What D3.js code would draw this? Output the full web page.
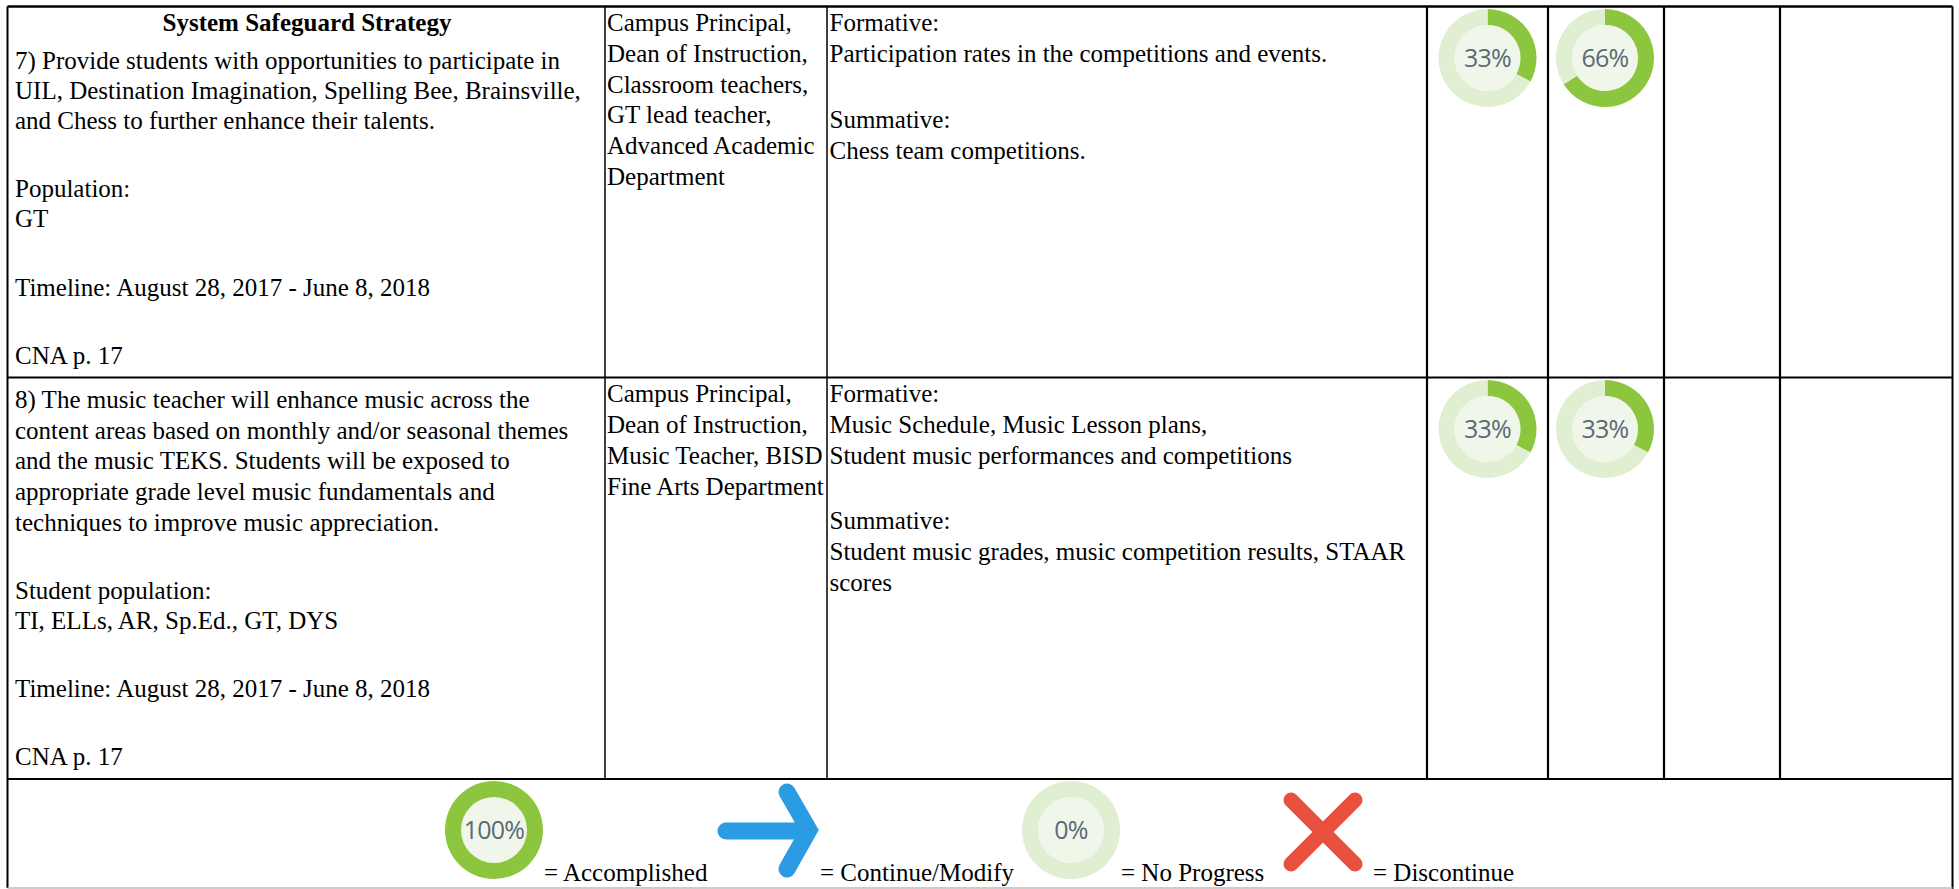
<!DOCTYPE html>
<html><head><meta charset="utf-8">
<script src="https://cdn.jsdelivr.net/npm/d3@7"></script>
<style>html,body{margin:0;padding:0;background:#fff}svg{display:block}</style>
</head><body><svg id="c" width="1959" height="889"></svg>
<script>
const strategy7 = ["7) Provide students with opportunities to participate in","UIL, Destination Imagination, Spelling Bee, Brainsville,","and Chess to further enhance their talents.","","Population:","GT","","Timeline: August 28, 2017 - June 8, 2018","","CNA p. 17"];
const staff7 = ["Campus Principal,","Dean of Instruction,","Classroom teachers,","GT lead teacher,","Advanced Academic","Department"];
const eval7 = ["Formative:","Participation rates in the competitions and events.","","Summative:","Chess team competitions."];
const strategy8 = ["8) The music teacher will enhance music across the","content areas based on monthly and/or seasonal themes","and the music TEKS. Students will be exposed to","appropriate grade level music fundamentals and","techniques to improve music appreciation.","","Student population:","TI, ELLs, AR, Sp.Ed., GT, DYS","","Timeline: August 28, 2017 - June 8, 2018","","CNA p. 17"];
const staff8 = ["Campus Principal,","Dean of Instruction,","Music Teacher, BISD","Fine Arts Department"];
const eval8 = ["Formative:","Music Schedule, Music Lesson plans,","Student music performances and competitions","","Summative:","Student music grades, music competition results, STAAR","scores"];
const progress7 = [33, 66];
const progress8 = [33, 33];
const legendLabels = ["= Accomplished","= Continue/Modify","= No Progress","= Discontinue"];
const legendValues = [100, 0];

const svg = d3.select("#c");
const serif = "'Liberation Serif','Times New Roman',serif";
const FS = 25;
const xL = 7.5, xR = 1952.5, col = [605, 827, 1427, 1548, 1664, 1780];
const yT = 6.5, yM = 377.5, yB = 779, yEnd = 888;

function textBlock(lines, x, y0, lh, gap){
  let y = y0, prevBlank = false;
  const rows = [];
  lines.forEach(t=>{
    if(!t){ prevBlank = true; return; }
    if(rows.length) y += prevBlank ? gap : lh;
    rows.push({t,y}); prevBlank = false;
  });
  svg.append("g").selectAll("text").data(rows).join("text")
    .attr("x",x).attr("y",d=>d.y).attr("font-family",serif).attr("font-size",FS).attr("fill","#000").text(d=>d.t);
}
svg.append("text").attr("x",307).attr("y",31).attr("text-anchor","middle").attr("font-family",serif)
  .attr("font-weight","bold").attr("font-size",FS).text("System Safeguard Strategy");
textBlock(strategy7, 15, 68.5, 30, 68.5);
textBlock(staff7, 607, 31, 30.8, 0);
textBlock(eval7, 829.5, 31, 31, 66);
textBlock(strategy8, 15, 407.7, 30.8, 67.7);
textBlock(staff8, 607, 402, 31, 0);
textBlock(eval8, 829.5, 402, 31, 65);

// grid
const lines = svg.append("g").attr("stroke","#000").attr("fill","none");
const ln=(x1,y1,x2,y2,w)=>lines.append("line").attr("x1",x1).attr("y1",y1).attr("x2",x2).attr("y2",y2).attr("stroke-width",w);
svg.append("line").attr("x1",xL).attr("x2",xR).attr("y1",yEnd).attr("y2",yEnd).attr("stroke","#bbb").attr("stroke-width",1.5);
ln(xL,yT,xR,yT,2.5); ln(xL,yM,xR,yM,2.2); ln(xL,yB,xR,yB,2);
ln(xL,yT,xL,yEnd,2); ln(xR,yT,xR,yEnd+1,2);
col.forEach(x=>ln(x,yT,x,yB,x<1000?1.5:2.2));

const pie = d3.pie().sort(null);
const arc = d3.arc().innerRadius(33).outerRadius(49);
function donut(v,cx,cy){
  const g = svg.append("g").attr("transform",`translate(${cx},${cy})`);
  g.append("circle").attr("r",33).attr("fill","#f0f7ea");
  g.selectAll("path").data(pie([v,100-v])).join("path").attr("d",arc).attr("fill",(d,i)=>i?"#e0efd2":"#8cc63e");
  g.append("text").attr("text-anchor","middle").attr("y",9).attr("font-family","'Open Sans',sans-serif")
   .attr("font-size",25).attr("letter-spacing",-0.8).attr("fill","#5b6a78").text(v+"%");
}
progress7.forEach((v,i)=>donut(v,[1487.5,1605][i],58));
progress8.forEach((v,i)=>donut(v,[1487.5,1605][i],429));
donut(legendValues[0],494,830);
donut(legendValues[1],1071,830);

// legend glyphs
const line2 = d3.line();
svg.append("path").attr("d",line2([[726,831],[808,831]]))
  .attr("fill","none").attr("stroke","#2b9be3").attr("stroke-width",17).attr("stroke-linecap","round");
svg.append("path").attr("d",line2([[787,792],[809,830],[787,869]]))
  .attr("fill","none").attr("stroke","#2b9be3").attr("stroke-width",17).attr("stroke-linecap","round").attr("stroke-linejoin","miter");
svg.append("path").attr("d",line2([[1291,800],[1355,864]])+line2([[1355,800],[1291,864]]))
  .attr("fill","none").attr("stroke","#e94f3d").attr("stroke-width",15).attr("stroke-linecap","round");
const lx=[544,820,1121,1373];
svg.append("g").selectAll("text").data(legendLabels).join("text").attr("x",(d,i)=>lx[i]).attr("y",880.5)
  .attr("font-family",serif).attr("font-size",FS).text(d=>d);
</script></body></html>
